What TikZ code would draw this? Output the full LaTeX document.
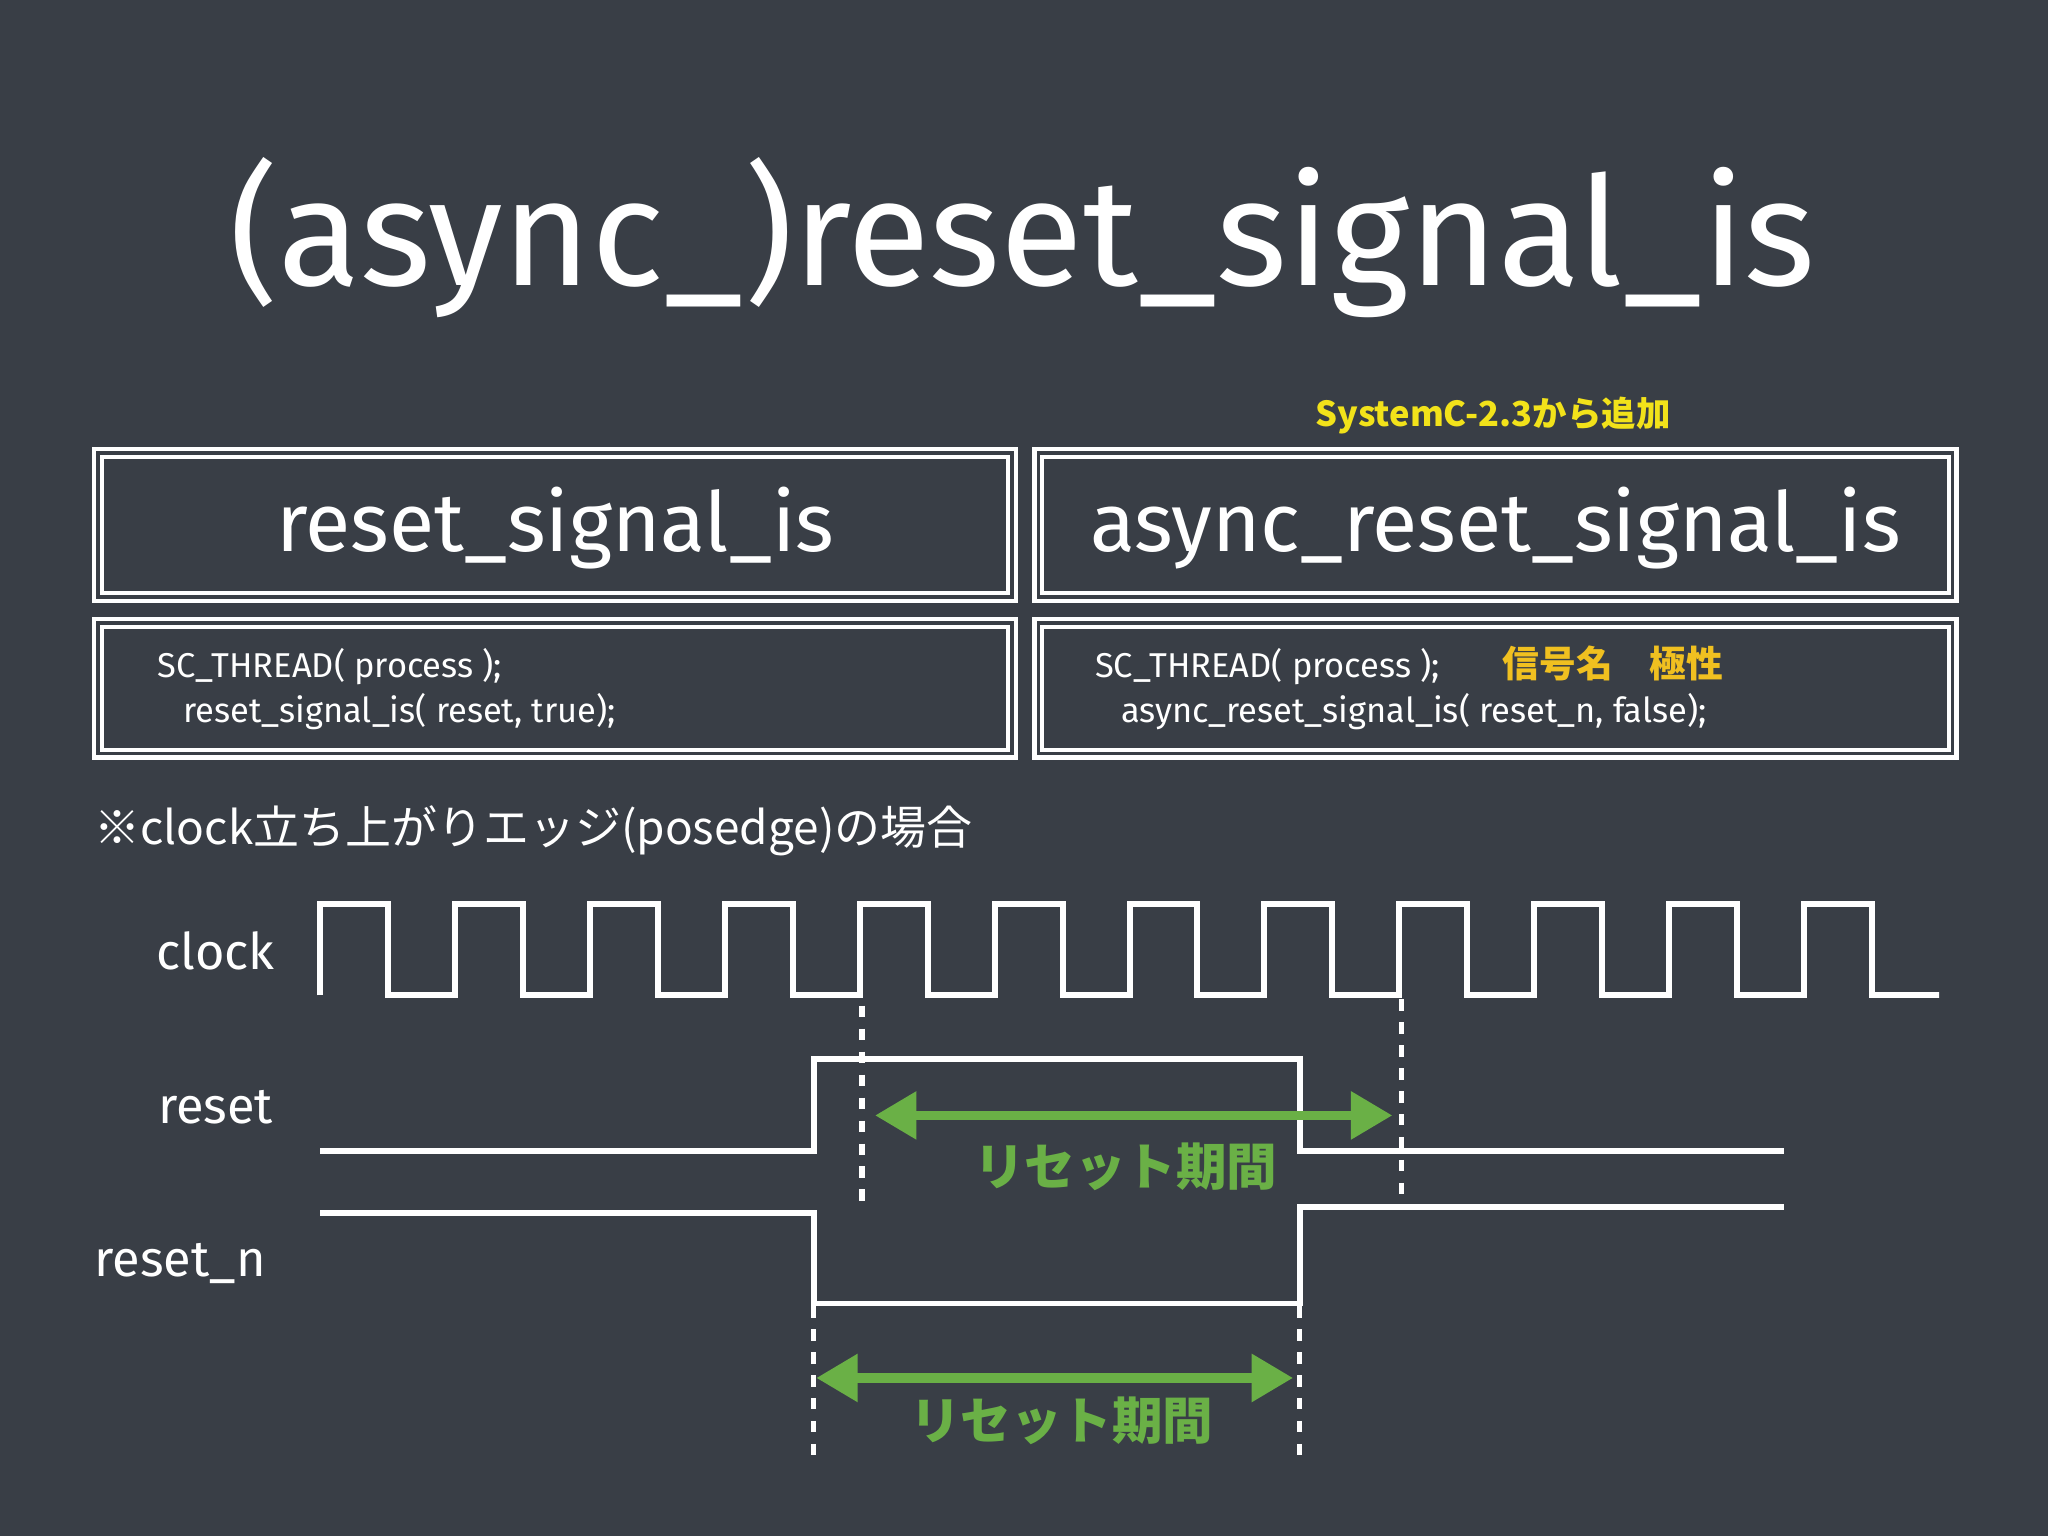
\documentclass[tikz,border=0pt]{standalone}
\usepackage{fontspec}
\setmainfont{Fira Sans}
\newfontfamily\cjk{Noto Sans CJK JP}
\usetikzlibrary{arrows.meta}
\definecolor{bg}{HTML}{393E46}
\definecolor{grn}{HTML}{6AB046}
\definecolor{yel}{HTML}{F2E21A}
\definecolor{org}{HTML}{F0C020}
\begin{document}
\begin{tikzpicture}[x=0.01cm,y=-0.01cm,
  chalk/.style={draw=white,line width=0.9pt,double=bg,double distance=0.8pt},
  wave/.style={white,line width=1.3pt},
  dot/.style={white,line width=1.2pt,dash pattern=on 2.5pt off 2.5pt},
  garrow/.style={grn,line width=2pt,{Triangle[length=9pt,width=10pt]}-{Triangle[length=9pt,width=10pt]}},
  lbl/.style={white,font=\fontsize{11}{13}\selectfont},
  code/.style={white,anchor=west,font=\fontsize{7.5}{9}\selectfont}]
\fill[bg] (0,0) rectangle (1568,1176);
\useasboundingbox (0,0) rectangle (1568,1176);
\node[white,font=\fontsize{33}{38}\selectfont] (title) at (783,182) {(async\_)reset\_signal\_is};
\node[yel,font=\cjk\bfseries\fontsize{7.5}{9}\selectfont] (sysc) at (1143,318) {SystemC-2.3から追加};
\draw[chalk] (75,347) rectangle (775,457); \draw[chalk] (795,347) rectangle (1495,457);
\draw[chalk] (75,477) rectangle (775,577); \draw[chalk] (795,477) rectangle (1495,577);
\node[white,font=\fontsize{18}{22}\selectfont] (b1) at (425,404) {reset\_signal\_is};
\node[white,font=\fontsize{18}{22}\selectfont] (b2) at (1145,404) {async\_reset\_signal\_is};
\node[code] (c1) at (108,510) {SC\_THREAD( process );};
\node[code] (c2) at (128,545) {reset\_signal\_is( reset, true);};
\node[code] (c3) at (826,510) {SC\_THREAD( process );};
\node[code] (c4) at (846,545) {async\_reset\_signal\_is( reset\_n, false);};
\node[org,font=\cjk\bfseries\fontsize{8}{9}\selectfont] (pol) at (1235,508) {信号名　極性};
\node[white,anchor=west,font=\cjk\fontsize{10}{12}\selectfont] (note) at (60,636) {※clock立ち上がりエッジ(posedge)の場合};
\node[lbl] (lc) at (165,728) {clock};
\node[lbl] (lr) at (165,848) {reset};
\node[lbl] (ln) at (138,967) {reset\_n};
\draw[wave] (245,762) \foreach \i in {0,...,11}{ -- ({245+103.3*\i},692) -- ({297+103.3*\i},692) -- ({297+103.3*\i},762) -- ({348.3+103.3*\i},762)} -- (1482,762);
\draw[wave] (245,881) -- (623,881) -- (623,811) -- (995,811) -- (995,881) -- (1366,881);
\draw[wave] (245,929) -- (623,929) -- (623,998) -- (995,998) -- (995,924) -- (1366,924);
\draw[dot] (660,770) -- (660,920);
\draw[dot] (1073,765) -- (1073,915);
\draw[dot] (623,1000) -- (623,1115);
\draw[dot] (995,1000) -- (995,1115);
\coordinate (a1) at (670,854); \coordinate (a2) at (1066,854);
\coordinate (a3) at (625,1055); \coordinate (a4) at (990,1055);
\draw[garrow] (a1) -- (a2);
\draw[garrow] (a3) -- (a4);
\node[grn,font=\cjk\bfseries\fontsize{11}{13}\selectfont] (g1) at (862,893) {リセット期間};
\node[grn,font=\cjk\bfseries\fontsize{11}{13}\selectfont] (g2) at (813,1088) {リセット期間};
\end{tikzpicture}
\end{document}
